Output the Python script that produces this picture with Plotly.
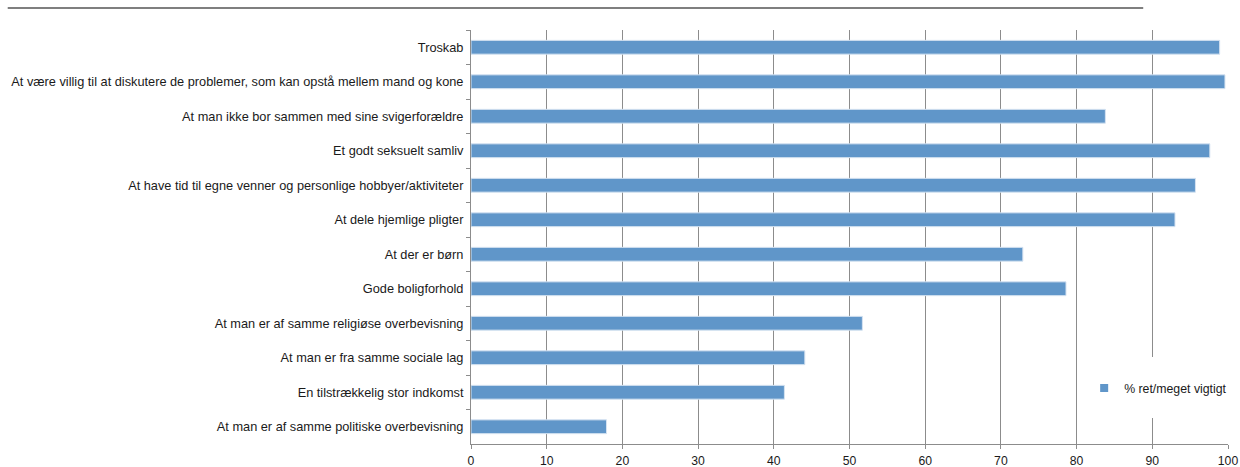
import plotly.graph_objects as go

categories = [
    "Troskab",
    "At være villig til at diskutere de problemer, som kan opstå mellem mand og kone",
    "At man ikke bor sammen med sine svigerforældre",
    "Et godt seksuelt samliv",
    "At have tid til egne venner og personlige hobbyer/aktiviteter",
    "At dele hjemlige pligter",
    "At der er børn",
    "Gode boligforhold",
    "At man er af samme religiøse overbevisning",
    "At man er fra samme sociale lag",
    "En tilstrækkelig stor indkomst",
    "At man er af samme politiske overbevisning",
]
values = [98.9, 99.6, 83.8, 97.6, 95.7, 93.0, 72.9, 78.6, 51.7, 44.1, 41.4, 17.9]
series_name = "% ret/meget vigtigt"
x_ticks = list(range(0, 101, 10))

FONT = "Liberation Sans, Arial, sans-serif"
GRID = "#8c8c8c"
BAR = "#6096C9"

fig = go.Figure()
fig.add_trace(go.Bar(
    y=categories, x=values, orientation="h", name=series_name,
    marker=dict(color=BAR, line=dict(color="#d6e3f1", width=1)),
    showlegend=False,
))
# legend entry with a small square symbol
fig.add_trace(go.Scatter(
    x=[None], y=[None], mode="markers", name=series_name,
    marker=dict(symbol="square", size=8, color=BAR),
    showlegend=True, hoverinfo="skip",
))

fig.update_layout(
    width=1240, height=467,
    margin=dict(l=471, r=12, t=30, b=23, autoexpand=False),
    paper_bgcolor="white", plot_bgcolor="white",
    font=dict(family=FONT, size=12, color="#1a1a1a"),
    bargap=0.6,
    showlegend=True,
    legend=dict(x=0.81, y=0.135, xanchor="left", yanchor="middle",
                bgcolor="rgba(0,0,0,0)", font=dict(size=12.3),
                itemwidth=30),
    xaxis=dict(range=[0, 100], tickvals=x_ticks, showgrid=True, gridcolor=GRID,
               gridwidth=1, showline=True, linecolor=GRID, linewidth=1,
               ticks="outside", ticklen=4, tickcolor=GRID, zeroline=False,
               fixedrange=True, tickfont=dict(size=12.2), ticklabelstandoff=1),
    yaxis=dict(autorange="reversed", showline=True, linecolor=GRID, linewidth=1,
               ticks="outside", ticklen=4, tickcolor=GRID, tickson="boundaries",
               showgrid=False, fixedrange=True, ticklabelstandoff=4,
               tickfont=dict(size=12.75)),
    shapes=[
        dict(type="line", xref="paper", yref="paper", x0=-0.612, x1=0.888,
             y0=1.053, y1=1.053, line=dict(color="#7f7f7f", width=2)),
        dict(type="rect", xref="paper", yref="paper", x0=0.818, x1=1.02,
             y0=0.063, y1=0.21, fillcolor="white", line=dict(width=0),
             layer="above"),
    ],
)

fig.write_html("out.html", config={"displayModeBar": False},
               post_script="document.body.style.margin='0';")
